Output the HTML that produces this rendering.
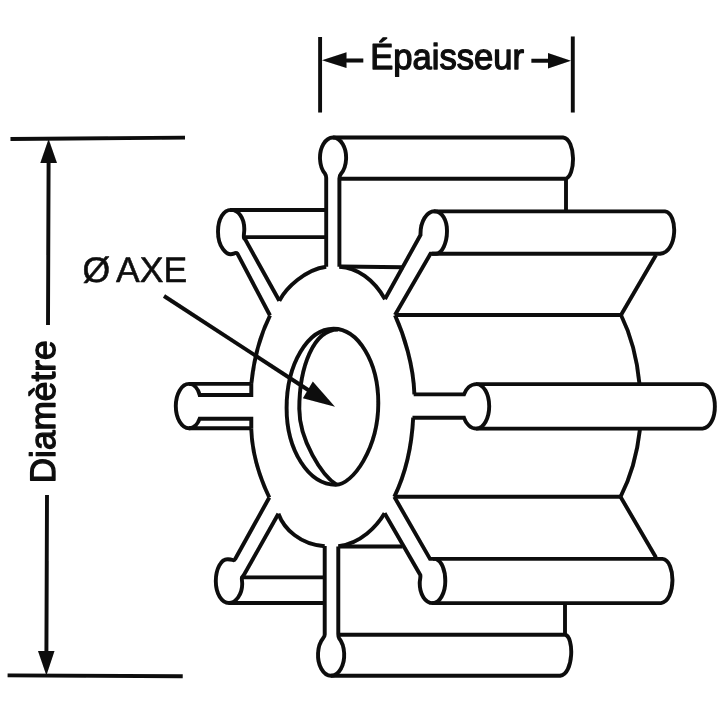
<!DOCTYPE html>
<html lang="fr">
<head>
<meta charset="utf-8">
<title>Turbine – Diamètre / Épaisseur / Ø AXE</title>
<style>
html,body{margin:0;padding:0;background:#fff;}
body{width:720px;height:720px;overflow:hidden;}
svg{display:block;}
text{font-family:"Liberation Sans",sans-serif;text-rendering:geometricPrecision;fill:#0a0a0a;stroke:#0a0a0a;stroke-width:1.3;stroke-linejoin:round;}
.l{fill:none;stroke:#0a0a0a;stroke-width:3.9;stroke-linejoin:miter;stroke-linecap:butt;}
.d{fill:none;stroke:#0a0a0a;stroke-width:3.9;}
.f{fill:#0a0a0a;stroke:none;}
</style>
</head>
<body>
<svg width="720" height="720" viewBox="0 0 720 720">
<defs><filter id="soft" x="-5%" y="-5%" width="110%" height="110%"><feGaussianBlur stdDeviation="0.35"/></filter></defs>
<rect width="720" height="720" fill="#fff"/>
<g filter="url(#soft)">

<!-- dimension: Épaisseur -->
<g id="dim-top">
<path class="d" d="M320.1,37 V112.5 M572.8,36.5 V112.5"/>
<path class="d" d="M344,60.5 H363.3 M531.4,60.8 H550"/>
<path class="f" d="M322,60.2 L346.5,52.3 V68 Z"/>
<path class="f" d="M571,60.7 L548,53 V68.4 Z"/>
<text class="t" x="370.3" y="68.9" font-size="36" textLength="153.8" lengthAdjust="spacingAndGlyphs">Épaisseur</text>
</g>

<!-- dimension: Diamètre -->
<g id="dim-left">
<path class="d" d="M10.5,139 L185,137.6 M7.6,675.4 L182.7,676.2"/>
<path class="d" d="M48.6,160 L48,325 M47,495 L46.4,655"/>
<path class="f" d="M48.6,139 L57,163 H40.3 Z"/>
<path class="f" d="M46.4,675.5 L38,651 H54.5 Z"/>
<text class="t" transform="translate(55.2,483.3) rotate(-90)" font-size="35.5" textLength="142.8" lengthAdjust="spacingAndGlyphs">Diamètre</text>
</g>

<!-- label Ø AXE -->
<g id="axe">
<text class="t" x="82.6" y="282" font-size="35.6" word-spacing="-2.1" style="stroke-width:0.5">Ø AXE</text>
<path class="d" d="M164,296 L312,392.5"/>
<path class="f" d="M335,406.7 L312.8,381.5 L302.9,398.3 Z"/>
</g>

<!-- impeller -->
<g id="impeller" class="l">
<!-- hub outline arcs -->
<path d="M339.4,266.7 C357,267.5 374,279.5 385,299.2"/>
<path d="M395,315.3 C404,335 413.5,365 414.4,394.4"/>
<path d="M413.2,417.6 A81.5,141.5 0 0 1 394.3,496.8"/>
<path d="M384.6,513.3 C377,526 361,543.5 338.5,546.2"/>
<path d="M324.7,546.3 C300,544.5 284,529 278.4,513.75"/>
<path d="M269.3,497.5 C260,478 252,452 251.25,428.75"/>
<path d="M251.3,383.9 A81.5,141.5 0 0 1 270,315.5"/>
<path d="M279.3,300.8 C286,288 305,269.5 326.2,266.7"/>
<!-- hub silhouette lines -->
<path d="M339.4,266.5 L403.5,267.2 M338.3,546.5 H402.5"/>
<path d="M395,315 H621 M394.3,496.8 H620.5"/>
<!-- far hub arcs -->
<path d="M621,315 A81.5,141.5 0 0 1 639.5,384"/>
<path d="M640,429 A81.5,141.5 0 0 1 620.5,496.8"/>
<path d="M621,315 L656,255 M620.5,496.8 L656,557.5"/>
<!-- hole -->
<path d="M333.5,328.8 C358.2,328.8 378.3,362 378.3,403 C378.3,448.2 352.8,484.8 335.8,484.8 C308.6,484.8 286.6,450.4 286.6,408 C286.6,364.3 307.6,328.8 333.5,328.8 Z"/>
<path d="M338,329.5 C314,329.5 299.3,366 299.3,409 C299.3,440 322,476 336.5,484.6"/>

<!-- top blade -->
<path d="M326.2,266.7 V177.8 Q326.2,175.6 325.05,173.84 A13.05,20.3 0 1 1 341.05,173.84 Q339.4,175.8 339.4,178.4 V266.7"/>
<path d="M333,137.5 H563 C576,139 576,177 565,178.8 H339.4"/>
<path d="M566,179 V210.5"/>

<!-- upper-left blade -->
<path d="M270,315.5 L237.4,253.6 Q236,252.2 233.8,253.6 C226,256.8 218,246 218,231.7 C218,219 223.5,209.9 231,209.9 C238.5,209.9 244.3,218 244.3,229 C244.3,233 243.4,236 244,238 L245.2,239.4 L279.3,300.8"/>
<path d="M230,210 H326.2 M244,237.1 H326.2"/>

<!-- upper-right blade -->
<path d="M385,299 L420.5,235 C420.2,221 427,211.3 434.5,211.3 C442,211.3 447,220 447,231 C447,243 442,253.5 436,253.8 H430.5 L395,315"/>
<path d="M434,211.4 H665 C678,213 678,252 660,253.8 H432"/>

<!-- right blade -->
<path d="M413.7,394.4 H464 C466,389 470.5,384.1 476.5,384.1 C483.5,384.1 489.2,394 489.2,406.3 C489.2,418.6 483.5,428.6 476.5,428.6 C470.5,428.6 466,423.5 464,417.8 H412.5"/>
<path d="M476,384.1 H702.5 C719,386 719,427 702.5,428.6 H476"/>

<!-- lower-right blade -->
<path d="M394.3,496.8 L430,558.9 H436 C441.5,561 445.3,570 445.3,581 C445.3,593 439.8,603.1 432.8,603.1 C425,603.1 419.7,594 419.7,583 C419.7,580 420.8,577.5 420.3,575 L384.6,513.3"/>
<path d="M433,558.9 H662.5 C676,560.5 676,601 661,603.1 H432"/>

<!-- bottom blade -->
<path d="M324.7,546 V634.5 Q324.7,636.6 323.1,638.17 A13.1,21 0 1 0 339.1,638.17 Q338.3,636.6 338.3,634 V546.5"/>
<path d="M338.3,634.7 H565 C574,636 574,674 560,675.8 H331"/>
<path d="M565,603 V634.5"/>

<!-- lower-left blade -->
<path d="M269.3,497.5 L235.2,559 Q234.4,560.6 232.6,560 C231,559.3 229,559.2 227.5,559.2 C221,559.2 215.8,569 215.8,581 C215.8,593.5 221.7,603 229,603 C236,603 242.2,594 242.2,584 C242.2,581 241.5,579 242,577.4 L243.9,575 L278.4,513.75"/>
<path d="M242,577.4 H324.7 M229,603 H324.7"/>

<!-- left blade -->
<path d="M251.3,383.9 H189 C181.7,383.9 175.8,393.8 175.8,406.1 C175.8,418.4 181.7,428.3 189,428.3 H251.3"/>
<path d="M189,383.9 C194,383.9 198,388.5 199.7,395 H251.3 V383.9"/>
<path d="M189,428.3 C194,428.3 198,423.5 199.7,418.7 H251.3 V428.7"/>
</g>
</g>
</svg>
</body>
</html>
